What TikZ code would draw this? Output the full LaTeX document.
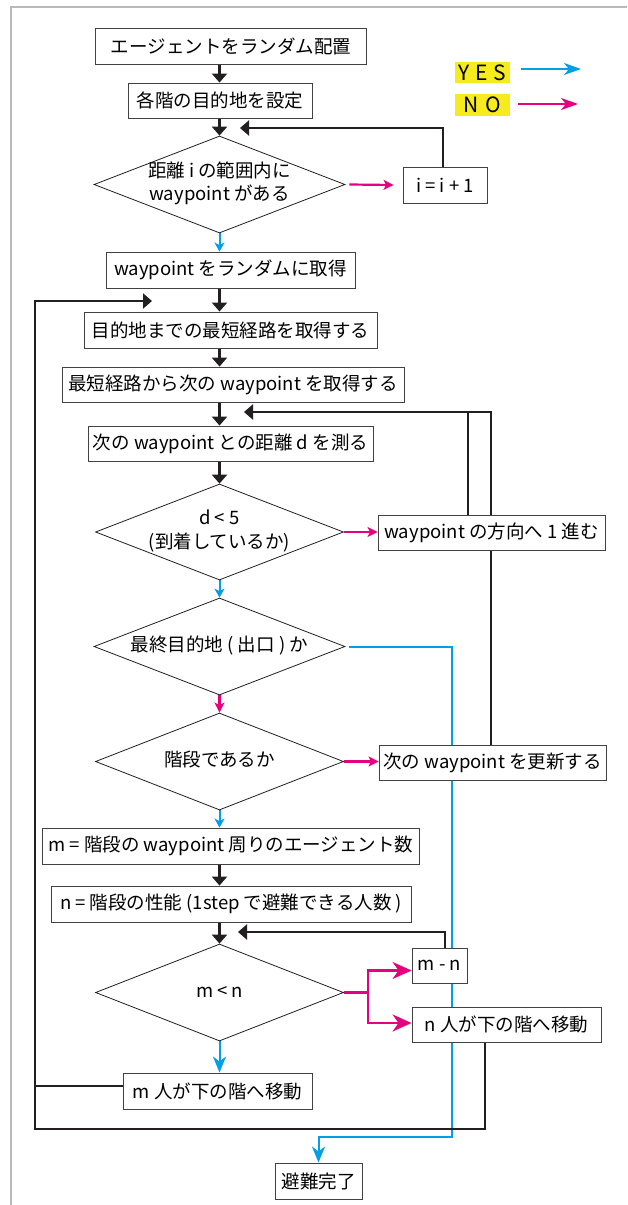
\documentclass[tikz,border=0pt]{standalone}
\usepackage{fontspec}
\setmainfont{Noto Sans CJK JP}
\usetikzlibrary{arrows.meta,shapes.geometric,backgrounds}
\definecolor{cyanA}{RGB}{0,160,233}
\definecolor{magA}{RGB}{230,0,126}
\definecolor{yelA}{RGB}{245,235,30}
\definecolor{ink}{RGB}{35,31,32}
\newcommand{\dtext}[1]{\makebox[0pt]{\begin{tabular}{@{}c@{}}#1\end{tabular}}}
\begin{document}
\begin{tikzpicture}[x=1pt,y=-1pt,
  font=\fontsize{18.5}{23.5}\selectfont,
  box/.style={draw=ink!85, line width=0.9pt, fill=white, inner sep=0pt, minimum height=36},
  dia/.style={draw=ink, line width=0.8pt, diamond, fill=white, inner sep=0pt, minimum width=251, minimum height=97},
  lgd/.style={fill=yelA, inner sep=0pt, minimum width=55, minimum height=21, font=\fontsize{21}{21}\selectfont},
  blk/.style={draw=ink, line width=2.3pt, -{Triangle[length=9pt,width=15pt]}},
  blkl/.style={draw=ink, line width=2.3pt},
  yesar/.style={draw=cyanA, line width=2pt, -{Stealth[length=9pt,width=10pt,inset=2.5pt]}},
  yesbig/.style={draw=cyanA, line width=2pt, -{Stealth[length=16pt,width=13pt,inset=5pt]}},
  noar/.style={draw=magA, line width=2.2pt, -{Stealth[length=10pt,width=10pt,inset=2.5pt]}},
  nobig/.style={draw=magA, line width=2.4pt, -{Stealth[length=19pt,width=17pt,inset=6pt]}},
  nol/.style={draw=magA, line width=2.4pt},
  lgdar/.style={line width=2pt, -{Stealth[length=17pt,width=12pt,inset=5pt]}}
]
\useasboundingbox (0,0) rectangle (627,1205);
\draw[gray!55, line width=1.3pt] (627,7) -- (11,7) -- (11,1205);

% nodes
\node[box, minimum width=271] (b1) at (231,46) {エージェントをランダム配置};
\node[box, minimum width=184, minimum height=35] (b2) at (220,100.5) {各階の目的地を設定};
\node[dia] (d1) at (219.5,184.5) {\dtext{距離 i の範囲内に\\waypoint がある}};
\node[box, minimum width=84] (bi) at (445,185) {i = i + 1};
\node[box, minimum width=249] (b5) at (230.5,270) {waypoint をランダムに取得};
\node[box, minimum width=293] (b6) at (230.5,330) {目的地までの最短経路を取得する};
\node[box, minimum width=342, minimum height=35] (b7) at (233,384.5) {最短経路から次の waypoint を取得する};
\node[box, minimum width=285, minimum height=35] (b8) at (230.5,443.5) {次の waypoint との距離 d を測る};
\node[dia, minimum width=248, minimum height=96] (d2) at (219.5,532) {\dtext{d < 5\\(到着しているか)}};
\node[box, minimum width=227, minimum height=35] (b10) at (491.5,532.5) {waypoint の方向へ 1 進む};
\node[dia] (d3) at (219.5,646.5) {\dtext{最終目的地 ( 出口 ) か}};
\node[dia, minimum width=248] (d4) at (219.5,761.5) {\dtext{階段であるか}};
\node[box, minimum width=227, minimum height=35] (b13) at (492.5,763) {次の waypoint を更新する};
\node[box, minimum width=377] (b14) at (231,846) {m = 階段の waypoint 周りのエージェント数};
\node[box, minimum width=360] (b15) at (231,904) {n = 階段の性能 (1step で避難できる人数 )};
\node[dia, minimum width=248] (d5) at (219.5,992.5) {\dtext{m < n}};
\node[box, minimum width=55, minimum height=35] (b17) at (439.5,965.5) {m - n};
\node[box, minimum width=189, minimum height=35] (b18) at (506.5,1024.5) {n 人が下の階へ移動};
\node[box, minimum width=189] (b19) at (217.5,1091) {m 人が下の階へ移動};
\node[box, minimum width=87] (b20) at (318.5,1181) {避難完了};

% legend
\node[lgd] (ly) at (482.5,72.5) {Y\hspace{6pt}E\hspace{6pt}S};
\node[lgd, minimum height=22] (ln) at (482.5,105) {N\hspace{7pt}O};
\coordinate (lya) at (581,69);
\coordinate (lna) at (578,104);
\draw[lgdar, cyanA] ([xshift=11pt]ly.east |- lya) -- (lya);
\draw[lgdar, magA] ([xshift=8pt]ln.east |- lna) -- (lna);

\begin{scope}[on background layer]
% main column
\draw[blk] (b1.south -| d1.north) -- (b2.north -| d1.north);
\draw[blk] (b2.south -| d1.north) -- (d1.north);
\draw[noar] ([xshift=4pt]d1.east) -- ([xshift=-9pt]bi.west);
\coordinate (j1) at (240,128);
\draw[blk] ([xshift=-2pt]bi.north) |- (j1);
\draw[yesar] (d1.south) -- (b5.north -| d1.south);
\draw[blk] (b5.south -| d1.south) -- (b6.north -| d1.south);
\draw[blk] (b6.south -| d1.south) -- (b7.north -| d1.south);
\draw[blk] (b7.south -| d1.south) -- (b8.north -| d1.south);
\draw[blk] (b8.south -| d1.south) -- (d2.north);
\draw[noar] (d2.east) -- (d2.east -| b10.west);
\coordinate (j2) at (244,412);
\coordinate (k2) at (468,412);
\draw[blk] ([xshift=-1.5pt]b13.north) |- (j2);
\draw[blkl] (b10.north -| k2) -- (k2);
\draw[yesar] (d2.south) -- (d3.north);
\coordinate (c3) at (452,1137);
\coordinate (c4) at (318.5,1137);
\draw[yesbig] ([xshift=4pt]d3.east) -| (c3) -- (c4) -- (b20.north);
\draw[noar] (d3.south) -- (d4.north);
\draw[noar] (d4.east) -- (d4.east -| b13.west);
\draw[yesar] (d4.south) -- (b14.north -| d4.south);
\draw[blk] (b14.south -| d4.south) -- (b15.north -| d4.south);
\draw[blk] (b15.south -| d4.south) -- (d5.north);
\coordinate (j5) at (238,932);
\draw[blk] ([xshift=5.5pt]b17.north) |- (j5);
\coordinate (p5) at (368,992.5);
\draw[nol] (d5.east) -- (p5);
\draw[nobig] (p5) |- ([yshift=-5pt]b17.west);
\draw[nobig] (p5) |- ([yshift=1.5pt]b18.west);
\draw[yesbig] (d5.south) -- (b19.north -| d5.south);
\coordinate (L1) at (35,1129);
\coordinate (L0) at (35,301);
\coordinate (L2) at (152,301);
\draw[blk] ([xshift=-21.5pt]b18.south) |- (L1) -- (L0) -- (L2);
\draw[blkl] ([yshift=5pt]b19.west) -- ([yshift=5pt]b19.west -| L1);
\end{scope}
\end{tikzpicture}
\end{document}
